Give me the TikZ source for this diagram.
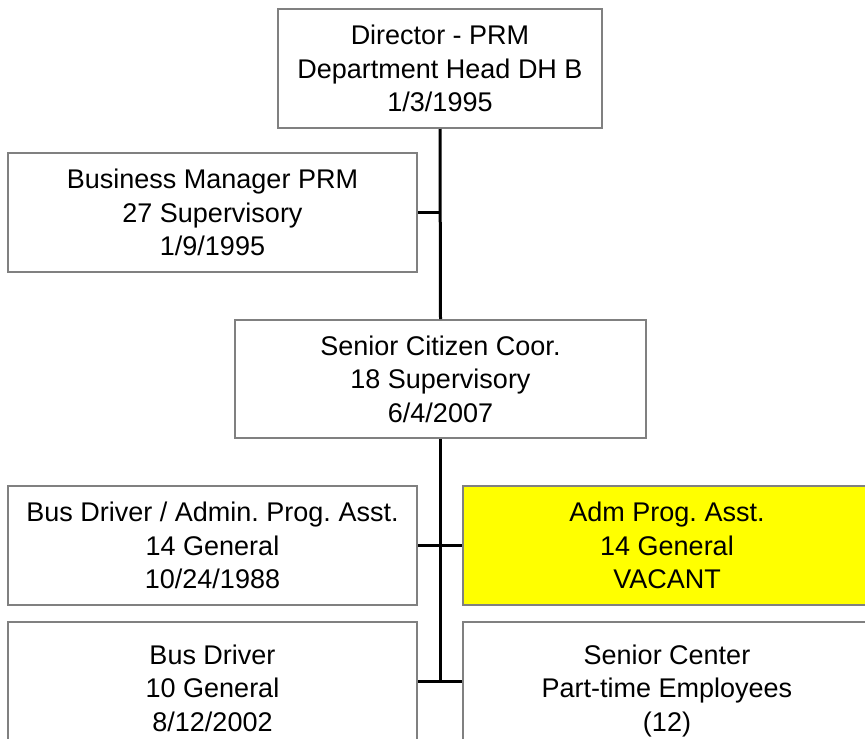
\documentclass[tikz,border=0pt]{standalone}
\usepackage{fontspec}
\setmainfont{Liberation Sans}
\frenchspacing
\definecolor{vacantyellow}{RGB}{255,255,0}
\definecolor{boxgray}{RGB}{128,128,128}
\begin{document}
\begin{tikzpicture}[x=1pt, y=-1pt,
  box/.style={draw=boxgray, line width=2pt, fill=white, align=center,
    inner sep=0pt, minimum height=119pt,
    font=\fontsize{27}{33.5}\selectfont},
  vacant/.style={box, fill=vacantyellow},
  link/.style={draw=black, line width=3pt}]
\useasboundingbox (0,0) rectangle (865,739);
\clip (0,0) rectangle (865,739);

% positions
\node[box, minimum width=324pt] (dir) at (440,68.5)
  {Director - PRM\\Department Head DH B\\1/3/1995};
\node[box, minimum width=409pt] (bm) at (212.5,212.5)
  {Business Manager PRM\\27 Supervisory\\1/9/1995};
\node[box, minimum width=411pt, minimum height=118pt] (sc) at (440.5,379)
  {Senior Citizen Coor.\\18 Supervisory\\6/4/2007};
\node[box, minimum width=409pt] (bda) at (212.5,545.5)
  {Bus Driver / Admin. Prog. Asst.\\14 General\\10/24/1988};
\node[vacant, minimum width=408pt] (apa) at (667,545.5)
  {Adm Prog. Asst.\\14 General\\VACANT};
% bottom row runs past the lower edge
\node[box, minimum width=409pt, minimum height=138pt] (bd) at (212.5,691)
  {Bus Driver\\10 General\\8/12/2002\vphantom{(}};
\node[box, minimum width=408pt, minimum height=138pt] (spt) at (667,691)
  {Senior Center\\Part-time Employees\\(12)};

% reporting lines
\coordinate (trunk) at ([yshift=10pt]sc.south |- bd.east);
\draw[link] (dir.south) -- (sc.north);
\draw[link] (bm.east) -- (bm.east -| dir.south);
\draw[link] (sc.south) -- (trunk);
\draw[link] (bda.east) -- (apa.west);
\draw[link] ([yshift=10pt]bd.east) -- ([yshift=10pt]spt.west);
\end{tikzpicture}
\end{document}
